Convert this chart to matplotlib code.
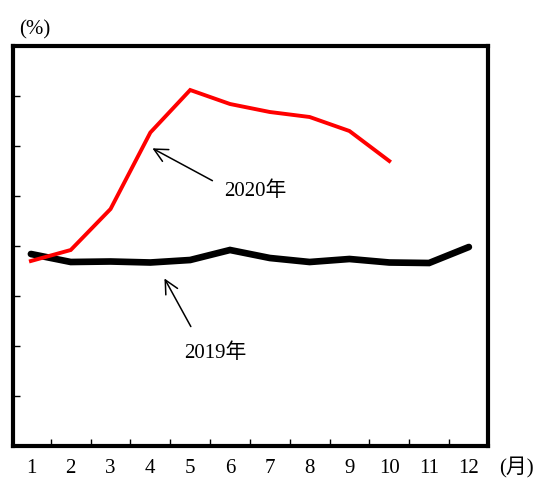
import matplotlib
matplotlib.use("Agg")
import matplotlib.pyplot as plt
import numpy as np

months = list(range(1, 13))
month_labels = [str(m) for m in months]
y2019 = [3.84, 3.68, 3.69, 3.67, 3.72, 3.92, 3.76, 3.68, 3.74, 3.67, 3.66, 3.98]
months2020 = list(range(1, 11))
y2020 = [3.70, 3.92, 4.74, 6.27, 7.12, 6.84, 6.68, 6.58, 6.30, 5.70]

plt.rcParams['font.family'] = ['Liberation Serif', 'Noto Sans CJK JP']

fig = plt.figure(figsize=(5.37, 4.81), dpi=100)
ax = fig.add_axes([13/537, 1-447/481, (488-13)/537, (447-47)/481])

ax.plot(months, y2019, color='black', lw=4.8, solid_capstyle='round', solid_joinstyle='miter', zorder=2)
ax.plot(months2020, y2020, color='#ff0000', lw=2.8, solid_joinstyle='miter', zorder=3)

ax.set_xlim(0.55, 12.48)
ax.set_ylim(0, 8)

ax.set_xticks(np.arange(1.5, 12, 1.0))
ax.set_xticklabels([])
ax.set_xticks(months, minor=True)
ax.set_xticklabels(month_labels, minor=True, fontsize=15)
ax.tick_params(axis='x', which='major', direction='in', length=5, width=1, color='black')
ax.tick_params(axis='x', which='minor', length=0, pad=9)
ax.set_yticks(range(1, 8))
ax.set_yticklabels([])
ax.tick_params(axis='y', direction='in', length=5, width=1)

for s in ax.spines.values():
    s.set_linewidth(3)

ax.annotate('', xy=(3.99, 5.98), xytext=(5.62, 5.28),
            arrowprops=dict(arrowstyle='->', color='black', lw=1.1, mutation_scale=24))
ax.text(6.63, 5.12, '2020年', ha='center', va='center', fontsize=15)
ax.annotate('', xy=(4.32, 3.40), xytext=(5.05, 2.34),
            arrowprops=dict(arrowstyle='->', color='black', lw=1.1, mutation_scale=24))
ax.text(5.62, 1.88, '2019年', ha='center', va='center', fontsize=15)

fig.text(35/537, 1-30/481, '(%)', ha='center', va='center', fontsize=15)
fig.text(516/537, 1-468/481, '(月)', ha='center', va='center', fontsize=15)

fig.savefig('out.png', dpi=100)
